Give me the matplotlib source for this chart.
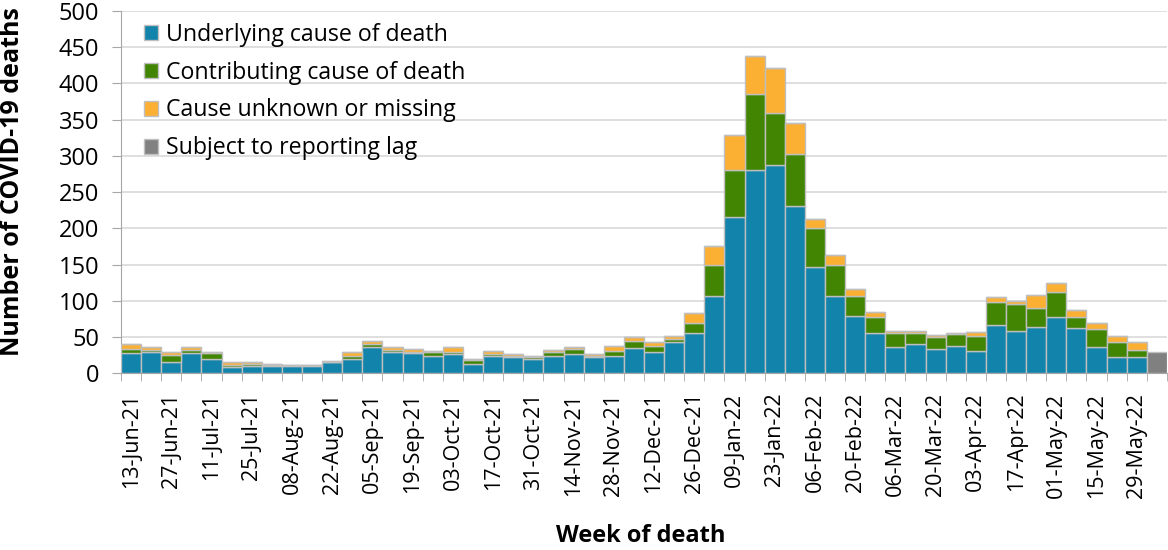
import numpy as np
import pandas as pd
import matplotlib
matplotlib.use("Agg")
import matplotlib.pyplot as plt
from matplotlib.ticker import MultipleLocator

plt.rcParams['font.family'] = ['Open Sans', 'DejaVu Sans']

# ---- data ----
weeks = pd.date_range("2021-06-13", periods=52, freq="7D").strftime("%d-%b-%y").tolist()

underlying = [28, 30, 15, 28, 20, 8, 10, 10, 10, 10, 15, 20, 36, 29, 28, 24, 26,
              13, 24, 22, 20, 24, 26, 22, 24, 35, 29, 43, 55, 107, 216, 281, 288,
              231, 146, 106, 79, 56, 36, 40, 34, 38, 31, 66, 58, 64, 77, 63, 36,
              22, 22, 0]
contributing = [6, 2, 10, 4, 8, 4, 3, 1, 1, 1, 1, 4, 4, 3, 2, 5, 3,
                6, 3, 2, 2, 5, 8, 2, 7, 10, 8, 4, 14, 43, 65, 105, 71,
                72, 54, 44, 28, 22, 19, 15, 16, 16, 21, 32, 38, 26, 35, 15, 25,
                21, 10, 0]
unknown = [6, 4, 4, 4, 2, 3, 2, 2, 0, 0, 1, 5, 5, 4, 4, 2, 7,
           1, 4, 3, 2, 3, 2, 2, 7, 5, 6, 5, 14, 26, 48, 52, 63,
           43, 13, 13, 9, 6, 3, 3, 3, 2, 5, 7, 4, 18, 13, 9, 9,
           9, 11, 0]
lag = [0] * 51 + [29]

labels = ["Underlying cause of death", "Contributing cause of death",
          "Cause unknown or missing", "Subject to reporting lag"]
colors = ["#1283AB", "#418502", "#FBB034", "#808080"]

# ---- plot ----
fig = plt.figure(figsize=(11.68, 5.5), dpi=100)
ax = fig.add_axes([0.1036, 0.3213, 0.8955, 0.6587])

x = np.arange(len(weeks))
bottom = np.zeros(len(weeks))
for vals, lab, col in zip([underlying, contributing, unknown, lag], labels, colors):
    vals = np.array(vals, dtype=float)
    ax.bar(x, vals, width=1.0, bottom=bottom, color=col, edgecolor="#BFBFBF",
           linewidth=1.0, label=lab, zorder=3)
    bottom += vals

ax.set_xlim(-0.5, len(weeks) - 0.5)
ax.set_ylim(0, 500)
ax.yaxis.set_major_locator(MultipleLocator(50))
ax.grid(axis="y", color="#D9D9D9", linewidth=1.2, zorder=0)

ax.set_xticks(x[::2])
ax.set_xticklabels(weeks[::2], rotation=90, fontsize=15.5)
ax.set_xticks(np.arange(-0.5, len(weeks)), minor=True)
ax.tick_params(axis="x", which="major", length=0, pad=14)
ax.tick_params(axis="x", which="minor", length=6, color="#A6A6A6")
ax.tick_params(axis="y", length=6.5, color="#A6A6A6", labelsize=17, pad=9)

for s in ["top", "right"]:
    ax.spines[s].set_visible(False)
ax.spines["left"].set_color("#A6A6A6")
ax.spines["bottom"].set_color("#A6A6A6")

ax.set_ylabel("Number of COVID-19 deaths", fontsize=18, fontweight="bold")
ax.yaxis.set_label_coords(-0.092, 0.528)
ax.set_xlabel("Week of death", fontsize=17, fontweight="bold")
ax.xaxis.set_label_coords(0.497, -0.415)

ax.legend(loc="upper left", bbox_to_anchor=(0.011, 1.0), frameon=False, fontsize=16.7,
          handlelength=0.6, handleheight=0.6, handletextpad=0.35, labelspacing=0.6,
          borderpad=0, borderaxespad=0.5)

fig.savefig("out.png", dpi=100)
